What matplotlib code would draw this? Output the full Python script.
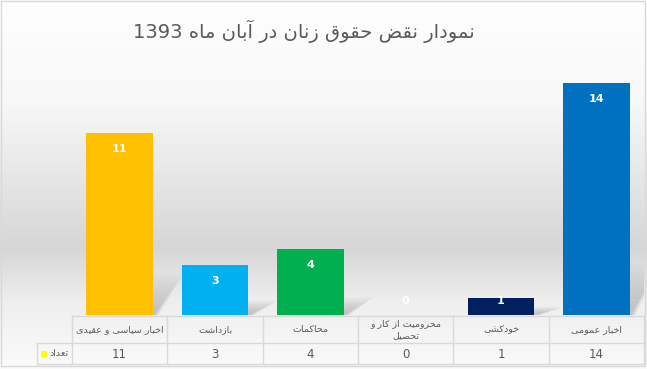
import matplotlib
matplotlib.use("Agg")
import matplotlib.pyplot as plt
from matplotlib.lines import Line2D
from matplotlib.patches import Polygon, Rectangle
import numpy as np

# --- Данные -------------------------------------------------------------
TITLE = "نمودار نقض حقوق زنان در آبان ماه 1393"
CATEGORIES = ["اخبار سیاسی و عقیدی", "بازداشت", "محاکمات",
              "محرومیت از کار و\nتحصیل", "خودکشی", "اخبار عمومی"]
COUNTS = [11, 3, 4, 0, 1, 14]
SERIES_NAME = "تعداد"
COLORS = ["#FFC000", "#00B0F0", "#00B050", "#A6A6A6", "#002060", "#0070C0"]

W, H = 647, 369
GRID = "#d9d9d9"
TXT = "#595959"

# Формы букв (isolated, final, initial, medial); у не соединяющихся слева — только две.
FORMS = {
    "ا": (0xFE8D, 0xFE8E), "آ": (0xFE81, 0xFE82), "د": (0xFEA9, 0xFEAA),
    "ر": (0xFEAD, 0xFEAE), "ز": (0xFEAF, 0xFEB0), "و": (0xFEED, 0xFEEE),
    "ب": (0xFE8F, 0xFE90, 0xFE91, 0xFE92), "ت": (0xFE95, 0xFE96, 0xFE97, 0xFE98),
    "ح": (0xFEA1, 0xFEA2, 0xFEA3, 0xFEA4), "خ": (0xFEA5, 0xFEA6, 0xFEA7, 0xFEA8),
    "س": (0xFEB1, 0xFEB2, 0xFEB3, 0xFEB4), "ش": (0xFEB5, 0xFEB6, 0xFEB7, 0xFEB8),
    "ص": (0xFEB9, 0xFEBA, 0xFEBB, 0xFEBC), "ض": (0xFEBD, 0xFEBE, 0xFEBF, 0xFEC0),
    "ع": (0xFEC9, 0xFECA, 0xFECB, 0xFECC), "ق": (0xFED5, 0xFED6, 0xFED7, 0xFED8),
    "ل": (0xFEDD, 0xFEDE, 0xFEDF, 0xFEE0), "م": (0xFEE1, 0xFEE2, 0xFEE3, 0xFEE4),
    "ن": (0xFEE5, 0xFEE6, 0xFEE7, 0xFEE8), "ه": (0xFEE9, 0xFEEA, 0xFEEB, 0xFEEC),
    "ی": (0xFBFC, 0xFBFD, 0xFBFE, 0xFBFF), "ک": (0xFB8E, 0xFB8F, 0xFB90, 0xFB91),
}


def _shape_word(word: str) -> str:
    """Соединить буквы слова и вернуть его в визуальном (обратном) порядке."""
    if not any(ch in FORMS for ch in word):
        return word
    out = []
    for i, ch in enumerate(word):
        f = FORMS.get(ch)
        if f is None:
            out.append(ch)
            continue
        prev = word[i - 1] if i > 0 else None
        nxt = word[i + 1] if i + 1 < len(word) else None
        jp = prev in FORMS and len(FORMS[prev]) == 4
        jn = nxt in FORMS and len(f) == 4
        if jp and jn:
            code = f[3]
        elif jp:
            code = f[1]
        elif jn:
            code = f[2]
        else:
            code = f[0]
        out.append(chr(code))
    return "".join(out[::-1])


def rtl(text: str) -> str:
    """Простая раскладка RTL: формы букв + обратный порядок слов в строке."""
    lines = []
    for line in text.split("\n"):
        lines.append(" ".join(_shape_word(w) for w in line.split(" ")[::-1]))
    return "\n".join(lines)


def fx(x):
    return x / W


def fy(y):
    return 1 - y / H


plt.rcParams["font.family"] = ["DejaVu Sans"]
fig = plt.figure(figsize=(W / 100, H / 100), dpi=100)

# Фон: вертикальный серый градиент как в Excel.
bg = fig.add_axes([0, 0, 1, 1], zorder=0)
bg.axis("off")
ys = np.arange(H)
shade = np.interp(ys, [0, 100, 247, 300, 369], [254, 248, 214, 238, 251]) / 255
bg.imshow(np.repeat(shade[:, None, None], 3, axis=2), aspect="auto",
          extent=[0, 1, 0, 1], interpolation="bilinear")
bg.set_xlim(0, 1); bg.set_ylim(0, 1)
bg.add_patch(Rectangle((fx(1), fy(366)), fx(644), (365) / H, fill=False,
                       edgecolor=GRID, lw=1))

# Область столбцов.
left, right, base, top = 72, 644, 315, 50
ax = fig.add_axes([fx(left), fy(base), (right - left) / W, (base - top) / H], zorder=1)
ax.set_xlim(-0.5, len(COUNTS) - 0.5)
ax.set_ylim(0, 16)
ax.axis("off")
ax.patch.set_alpha(0)
x = np.arange(len(COUNTS))
bw = 0.7

# Мягкие тени справа от столбцов (много слоёв с малой прозрачностью).
for xi, v in zip(x, COUNTS):
    if v <= 0:
        continue
    sh = 0.2 * v + 0.3
    for k in np.linspace(1.0, 0.2, 12):
        dx = 0.32 * k
        h = sh * k
        ax.add_patch(Polygon([(xi + bw / 2 - 0.05, 0), (xi + bw / 2 + 0.06 * k, 0),
                              (xi + bw / 2 + dx, h), (xi + bw / 2 - 0.05, h)],
                             closed=True, facecolor="#707070", alpha=0.03,
                             edgecolor="none", lw=0, zorder=2))

ax.bar(x, COUNTS, width=bw, color=COLORS, zorder=3)
for xi, v in zip(x, COUNTS):
    ax.text(xi, max(v - 0.97, 0.85), str(v), ha="center", va="center",
            color="white", fontweight="bold", fontsize=8, zorder=4)

# Заголовок.
fig.text(fx(304), fy(31), rtl(TITLE), ha="center", va="center",
         fontsize=14, color=TXT)

# Таблица данных под осью.
col_w = (right - left) / len(COUNTS)
t0, t1, t2 = 316, 343, 364
segs = [((left, t0), (right, t0)), ((37, t1), (right, t1)), ((37, t2), (right, t2)),
        ((37, t1), (37, t2))]
segs += [((left + k * col_w, t0), (left + k * col_w, t2)) for k in range(len(COUNTS) + 1)]
for (xa, ya), (xb, yb) in segs:
    fig.add_artist(Line2D([fx(xa), fx(xb)], [fy(ya), fy(yb)], color=GRID, lw=1,
                          transform=fig.transFigure))

for k, (cat, v) in enumerate(zip(CATEGORIES, COUNTS)):
    cx = left + (k + 0.5) * col_w
    fig.text(fx(cx), fy(329.5), rtl(cat), ha="center", va="center", fontsize=6.8,
             color=TXT, multialignment="center", linespacing=1.45)
    fig.text(fx(cx), fy(354), str(v), ha="center", va="center", fontsize=8.5, color=TXT)

fig.add_artist(Rectangle((fx(41), fy(357)), 6 / W, 6 / H, facecolor="#FFFF00",
                         edgecolor="none", transform=fig.transFigure))
fig.text(fx(59), fy(353), rtl(SERIES_NAME), ha="center", va="center",
         fontsize=6.8, color=TXT)

fig.savefig("out.png", dpi=100)
